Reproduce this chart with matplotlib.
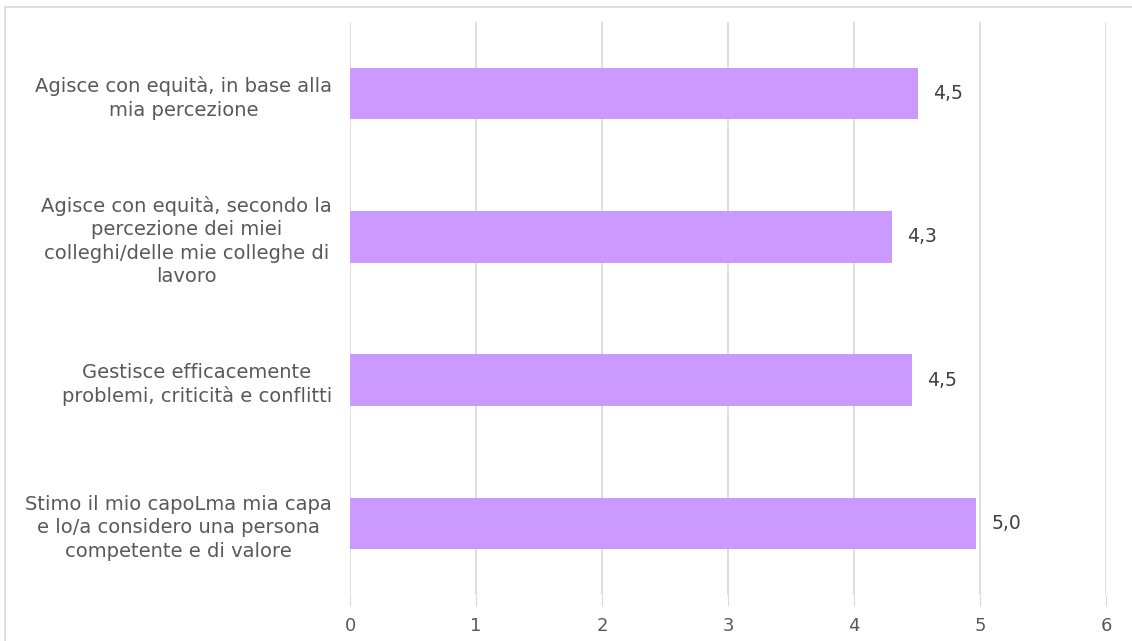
import matplotlib
matplotlib.use('Agg')
import matplotlib.pyplot as plt
from matplotlib.patches import Rectangle

categories = [
    'Agisce con equità, in base alla\nmia percezione',
    'Agisce con equità, secondo la\npercezione dei miei\ncolleghi/delle mie colleghe di\nlavoro',
    'Gestisce efficacemente\nproblemi, criticità e conflitti',
    'Stimo il mio capoLma mia capa\ne lo/a considero una persona\ncompetente e di valore',
]
values = [4.51, 4.30, 4.46, 4.97]
labels = ['4,5', '4,3', '4,5', '5,0']
xticks = [0, 1, 2, 3, 4, 5, 6]

grey = '#595959'
fig = plt.figure(figsize=(11.32, 6.41), dpi=100)
ax = fig.add_axes([350 / 1132, 46 / 641, 756 / 1132, 573 / 641])

# chart border
fig.patches.append(Rectangle((5 / 1132, -0.1), 1.2, (634 / 641) + 0.1,
                             transform=fig.transFigure, fill=False,
                             edgecolor='#D9D9D9', linewidth=1.2))

pos = list(range(len(categories)))
ax.barh(pos, values, height=0.36, color='#CC99FF', zorder=3)
for p, v, t in zip(pos, values, labels):
    ax.text(v + 0.12, p, t, va='center', ha='left', fontsize=13.5, color='#404040')

ax.set_xlim(0, 6)
ax.set_ylim(len(categories) - 0.5, -0.5)
ax.set_xticks(xticks)
ax.set_xticklabels([str(x) for x in xticks], fontsize=13, color=grey)
ax.set_yticks(pos)
ax.set_yticklabels(categories, fontsize=14, color=grey, multialignment='center',
                   linespacing=1.3)
ax.tick_params(axis='y', length=0, pad=13)
ax.tick_params(axis='x', length=8, color='#D9D9D9', pad=8)
ax.grid(axis='x', color='#D9D9D9', linewidth=1.2, zorder=0)
for s in ax.spines.values():
    s.set_visible(False)

fig.savefig('out.png', dpi=100)
